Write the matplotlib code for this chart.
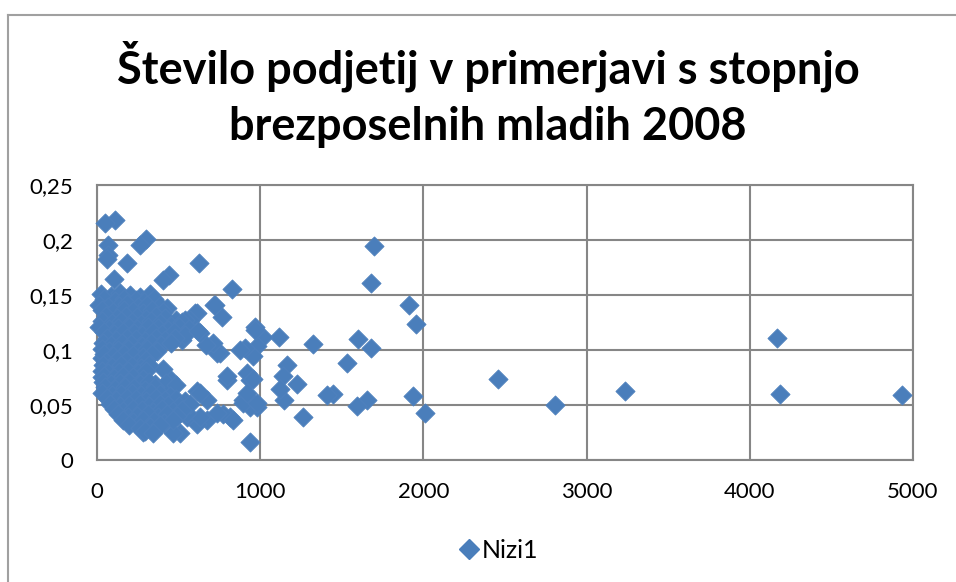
import matplotlib
matplotlib.use("Agg")
import matplotlib.pyplot as plt
from matplotlib.lines import Line2D
from matplotlib.ticker import FuncFormatter

title = "Število podjetij v primerjavi s stopnjo\nbrezposelnih mladih 2008"
series_name = "Nizi1"
x_ticks = [0, 1000, 2000, 3000, 4000, 5000]
y_ticks = [0, 0.05, 0.1, 0.15, 0.2, 0.25]

# sparse / outlying points
x_outer = [4930, 4185, 4167, 3235, 2806, 2459, 2010, 1934, 1953, 1910, 1697, 1677,
           1677, 1652, 1597, 1595, 1534, 1444, 1411, 1325, 1264, 1223, 1166, 1146,
           1142, 1121, 1117, 1019, 979, 968, 978, 958, 937, 968, 907, 937, 917, 897,
           950, 937, 958, 876, 825, 815, 798, 774, 764, 754, 733, 717, 711, 672,
           672, 670, 627, 631, 611, 611, 611, 600, 570, 550, 539, 520, 509, 468,
           443, 406, 300, 263, 284, 186, 104, 110, 49, 69, 69, 60, 835, 733, 631,
           549, 897, 917, 978, 631, 447, 406, 795, 723]
y_outer = [0.059, 0.060, 0.111, 0.062, 0.050, 0.0736, 0.042, 0.058, 0.1236, 0.1406,
           0.1945, 0.161, 0.1015, 0.0545, 0.110, 0.0485, 0.088, 0.060, 0.059, 0.105,
           0.039, 0.069, 0.086, 0.0545, 0.0757, 0.064, 0.112, 0.112, 0.048, 0.121,
           0.103, 0.094, 0.016, 0.118, 0.1015, 0.072, 0.079, 0.0545, 0.052, 0.048,
           0.073, 0.100, 0.155, 0.039, 0.0727, 0.041, 0.130, 0.097, 0.097, 0.141,
           0.106, 0.0545, 0.036, 0.104, 0.179, 0.115, 0.062, 0.032, 0.133, 0.133,
           0.127, 0.039, 0.127, 0.109, 0.0245, 0.024, 0.168, 0.1636, 0.2006, 0.1955,
           0.025, 0.179, 0.164, 0.218, 0.215, 0.1955, 0.186, 0.183, 0.036, 0.0425,
           0.039, 0.0425, 0.0515, 0.0606, 0.0515, 0.0606, 0.073, 0.082, 0.0757, 0.141]

# dense cluster of small municipalities
x_dense = [22, 84, 138, 205, 262, 327,
           41, 113, 168, 236, 288, 352,
           12, 67, 133, 186, 254, 309, 384, 428,
           33, 97, 163, 218, 283, 338, 404,
           28, 58, 124, 177, 243, 302, 361, 417, 482,
           31, 92, 148, 213, 268, 333, 388, 455, 518,
           14, 72, 127, 194, 247, 314, 372, 437, 503, 562,
           43, 103, 158, 224, 276, 343, 398, 472, 541, 618,
           30, 63, 118, 183, 238, 297, 364, 419, 478,
           34, 88, 153, 207, 273, 328, 393, 451,
           32, 74, 129, 192, 253, 306, 368,
           44, 98, 163, 218, 284, 338,
           30, 57, 122, 178, 243, 302,
           34, 93, 147, 212, 268, 317,
           30, 68, 132, 188, 252, 303,
           42, 104, 157, 223, 279, 358,
           38, 83, 142, 198, 263, 318, 423, 487,
           52, 108, 172, 228, 293, 357,
           33, 92, 147, 213, 272, 328, 387, 448,
           62, 118, 183, 237, 302, 363, 418, 483, 538,
           78, 143, 198, 262, 318, 384, 437, 503, 568,
           103, 158, 223, 278, 342, 398, 463, 522,
           128, 193, 247, 313, 372, 428, 493,
           162, 218, 283, 347, 412, 468,
           198, 263, 322, 388,
           292, 343]
y_dense = [0.151, 0.149, 0.152, 0.150, 0.148, 0.151,
           0.146, 0.144, 0.146, 0.145, 0.143, 0.146,
           0.141, 0.139, 0.140, 0.142, 0.139, 0.141, 0.140, 0.138,
           0.136, 0.134, 0.136, 0.135, 0.133, 0.136, 0.134,
           0.122, 0.131, 0.129, 0.131, 0.130, 0.128, 0.131, 0.129, 0.127,
           0.126, 0.124, 0.126, 0.125, 0.123, 0.126, 0.124, 0.122, 0.125,
           0.121, 0.119, 0.120, 0.121, 0.119, 0.121, 0.120, 0.118, 0.121, 0.119,
           0.116, 0.114, 0.116, 0.115, 0.113, 0.116, 0.114, 0.116, 0.113, 0.117,
           0.092, 0.111, 0.109, 0.111, 0.110, 0.108, 0.111, 0.109, 0.111,
           0.106, 0.104, 0.106, 0.105, 0.103, 0.106, 0.104, 0.106,
           0.101, 0.099, 0.100, 0.101, 0.099, 0.101, 0.099,
           0.096, 0.094, 0.096, 0.095, 0.093, 0.096,
           0.075, 0.089, 0.091, 0.090, 0.088, 0.091,
           0.086, 0.084, 0.086, 0.085, 0.083, 0.086,
           0.081, 0.079, 0.080, 0.081, 0.079, 0.081,
           0.076, 0.074, 0.076, 0.075, 0.073, 0.069,
           0.071, 0.069, 0.070, 0.071, 0.069, 0.071, 0.070, 0.068,
           0.066, 0.064, 0.066, 0.065, 0.063, 0.066,
           0.061, 0.059, 0.060, 0.061, 0.059, 0.061, 0.060, 0.058,
           0.056, 0.054, 0.056, 0.055, 0.053, 0.056, 0.054, 0.055, 0.053,
           0.051, 0.049, 0.050, 0.051, 0.049, 0.051, 0.050, 0.049, 0.051,
           0.046, 0.044, 0.046, 0.045, 0.043, 0.046, 0.044, 0.045,
           0.041, 0.039, 0.040, 0.041, 0.039, 0.041, 0.040,
           0.036, 0.034, 0.036, 0.035, 0.033, 0.036,
           0.031, 0.029, 0.030, 0.031,
           0.026, 0.024]

xs = x_outer + x_dense
ys = y_outer + y_dense

W, H = 956, 582
fig = plt.figure(figsize=(W / 100, H / 100), dpi=100)
fig.patch.set_facecolor("white")

font = "Lato"
grid_col = "#868686"

# chart-area border (left and top visible)
fig.add_artist(Line2D([8 / W, 8 / W], [0, 1 - 15 / H], transform=fig.transFigure,
                      color="#a0a0a0", lw=1.5))
fig.add_artist(Line2D([8 / W, 1], [1 - 15 / H, 1 - 15 / H], transform=fig.transFigure,
                      color="#a0a0a0", lw=1.5))

ax = fig.add_axes([97 / W, 1 - 459.5 / H, (913 - 97) / W, (459.5 - 185) / H])
ax.scatter(xs, ys, marker="D", s=95, facecolor="#4A7EBB", edgecolor="#4F81BD",
           linewidths=0.6, clip_on=False, zorder=3, label=series_name)

ax.set_xlim(0, 5000)
ax.set_ylim(0, 0.25)
ax.set_xticks(x_ticks)
ax.set_yticks(y_ticks)

def fmt_y(v, pos):
    s = f"{v:.2f}".rstrip("0").rstrip(".")
    return s.replace(".", ",")

ax.yaxis.set_major_formatter(FuncFormatter(fmt_y))
ax.xaxis.set_major_formatter(FuncFormatter(lambda v, p: f"{int(v)}"))
ax.grid(True, color=grid_col, lw=1.5)
ax.set_axisbelow(True)
for sp in ax.spines.values():
    sp.set_color(grid_col)
    sp.set_linewidth(1.5)
ax.tick_params(length=0, labelsize=16, labelcolor="black")
ax.tick_params(axis="y", pad=17)
ax.tick_params(axis="x", pad=16)
for lbl in ax.get_xticklabels() + ax.get_yticklabels():
    lbl.set_fontfamily(font)

fig.text(488 / W, 1 - 94 / H, title, ha="center", va="center", fontsize=32.5,
         fontweight="bold", family=font, linespacing=1.4)

leg = fig.legend(handles=[Line2D([], [], marker="D", ls="", color="#4A7EBB",
                                 markersize=10, label=series_name)],
                 loc="center", bbox_to_anchor=(497 / W, 1 - 550 / H), frameon=False,
                 prop={"family": font, "size": 18}, handletextpad=0.0,
                 handlelength=1.0)

fig.savefig("out.png", dpi=100)
